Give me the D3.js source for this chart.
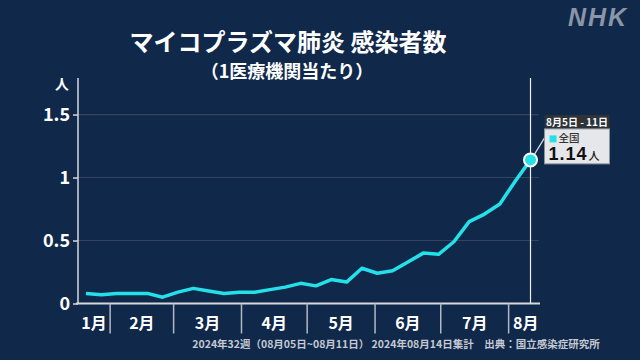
<!DOCTYPE html>
<html><head><meta charset="utf-8">
<script src="https://cdn.jsdelivr.net/npm/d3@7"></script>
<style>html,body{margin:0;padding:0;background:#10284a;}svg{display:block}</style>
</head><body><svg id="c" width="640" height="360"></svg>
<script>
// ---- data ----
const weekEnds = ["2024-01-21","2024-01-28","2024-02-04","2024-02-11","2024-02-18","2024-02-25",
  "2024-03-03","2024-03-10","2024-03-17","2024-03-24","2024-03-31","2024-04-07","2024-04-14",
  "2024-04-21","2024-04-28","2024-05-05","2024-05-12","2024-05-19","2024-05-26","2024-06-02",
  "2024-06-09","2024-06-16","2024-06-23","2024-06-30","2024-07-07","2024-07-14","2024-07-21",
  "2024-07-28","2024-08-04","2024-08-11"];
const values = [0.08,0.07,0.08,0.08,0.08,0.05,0.09,0.12,0.10,0.08,
                0.09,0.09,0.11,0.13,0.16,0.14,0.19,0.17,0.28,0.24,
                0.26,0.33,0.40,0.39,0.49,0.65,0.71,0.79,0.97,1.14];
const yTicks = [0, 0.5, 1, 1.5];
const monthLabels = ["1月","2月","3月","4月","5月","6月","7月","8月"];
const monthStarts = ["2024-02-01","2024-03-01","2024-04-01","2024-05-01","2024-06-01","2024-07-01","2024-08-01"];
const title = "マイコプラズマ肺炎 感染者数";
const subtitle = "（1医療機関当たり）";
const footnote = "2024年32週（08月05日~08月11日） 2024年08月14日集計　出典：国立感染症研究所";
const tipHeader = "8月5日 - 11日";
const tipSeries = "全国";
const unit = "人";

// ---- setup ----
const parse = d3.timeParse("%Y-%m-%d");
const data = weekEnds.map((d,i)=>({date:parse(d), value:values[i]}));
const svg = d3.select("#c");
const FONT = "'Noto Sans CJK JP','Noto Sans',sans-serif";
const NUM = "'Liberation Sans',Arial,sans-serif";
const L = 78, R = 540, T = 78, B = 303.5;

svg.append("rect").attr("width",640).attr("height",360).attr("fill","#10284a");

const x = d3.scaleTime()
  .domain([new Date(2024,0,17,8), new Date(2024,7,15,8)])
  .range([L, R]);
const y = d3.scaleLinear().domain([0, 1.79]).range([B, T]);

// gridlines
svg.append("g").selectAll("line").data(yTicks.filter(v=>v>0)).join("line")
  .attr("x1", L).attr("x2", R-1).attr("y1", d=>y(d)).attr("y2", d=>y(d))
  .attr("stroke", "#33455f").attr("stroke-width", 1.2);

// y axis
const yAxis = svg.append("g").attr("transform", `translate(${L},0)`)
  .call(d3.axisLeft(y).tickValues(yTicks).tickSize(5).tickPadding(3).tickFormat(d3.format("")));
yAxis.select(".domain").remove();
yAxis.selectAll(".tick line").attr("stroke","#d6d8dc").attr("stroke-width",1.5);
yAxis.selectAll(".tick text").attr("fill","#ffffff").attr("font-size",18)
  .attr("font-family",FONT).attr("font-weight",700);
svg.append("line").attr("x1",L).attr("x2",L).attr("y1",T).attr("y2",B)
  .attr("stroke","#d6d8dc").attr("stroke-width",1.5);
svg.append("text").attr("x",L-16).attr("y",T+11).attr("text-anchor","middle")
  .attr("fill","#fff").attr("font-size",14).attr("font-weight",700).attr("font-family",FONT).text(unit);

// x axis line
svg.append("line").attr("x1",L-2).attr("x2",R).attr("y1",B).attr("y2",B)
  .attr("stroke","#d6d8dc").attr("stroke-width",2);

// month separators and labels
const seps = monthStarts.map(parse);
svg.append("g").selectAll("line").data(seps).join("line")
  .attr("x1",d=>x(d)).attr("x2",d=>x(d)).attr("y1",B).attr("y2",B+30)
  .attr("stroke","#b4b8c0").attr("stroke-width",1.5);
const bounds = [x.domain()[0], ...seps, x.domain()[1]];
svg.append("g").selectAll("text").data(monthLabels).join("text")
  .attr("x",(d,i)=>(x(bounds[i])+x(bounds[i+1]))/2 + (i===7?1.5:0))
  .attr("y",B+25).attr("text-anchor","middle")
  .attr("fill","#fff").attr("font-size",16).attr("font-weight",700).attr("font-family",FONT)
  .text(d=>d);

// footnote
svg.append("text").attr("x",396).attr("y",347.5).attr("text-anchor","middle")
  .attr("fill","#c4c9d2").attr("font-size",10.5).attr("font-weight",700).attr("font-family",FONT)
  .text(footnote);

// title
svg.append("text").attr("x",288).attr("y",51).attr("text-anchor","middle")
  .attr("fill","#fff").attr("font-size",24).attr("font-weight",700).attr("font-family",FONT).text(title);
svg.append("text").attr("x",287).attr("y",77.5).attr("text-anchor","middle")
  .attr("fill","#fff").attr("font-size",18).attr("font-weight",700).attr("font-family",FONT).text(subtitle);

// NHK logo
svg.append("text").attr("x",598).attr("y",26).attr("text-anchor","middle")
  .attr("fill","#8a95a6").attr("font-size",25).attr("font-weight",900).attr("font-style","italic")
  .attr("letter-spacing",2).attr("font-family",NUM).text("NHK");

// vertical marker line at last point
const last = data[data.length-1];
const lx = x(last.date), ly = y(last.value);
svg.append("line").attr("x1",lx).attr("x2",lx).attr("y1",T).attr("y2",B)
  .attr("stroke","#f0f0f0").attr("stroke-width",1.2);

// line
svg.append("path").datum(data)
  .attr("d", d3.line().x(d=>x(d.date)).y(d=>y(d.value)))
  .attr("fill","none").attr("stroke","#24e0e8").attr("stroke-width",3.5)
  .attr("stroke-linejoin","round");

// tooltip
const tx = lx + 14, ty = ly - 45;
svg.append("line").attr("x1",lx+3).attr("y1",ly-4).attr("x2",tx).attr("y2",ty+23)
  .attr("stroke","#d8dadf").attr("stroke-width",1.2);
svg.append("rect").attr("x",tx).attr("y",ty).attr("width",65).attr("height",14).attr("fill","#2d3338");
svg.append("rect").attr("x",tx).attr("y",ty+14).attr("width",65).attr("height",35)
  .attr("fill","#e5e7eb").attr("stroke","#8d939b").attr("stroke-width",1);
svg.append("text").attr("x",tx+32.5).attr("y",ty+11).attr("text-anchor","middle")
  .attr("fill","#fff").attr("font-size",10).attr("font-weight",700).attr("font-family",FONT).text(tipHeader);
svg.append("rect").attr("x",tx+5).attr("y",ty+20.5).attr("width",7).attr("height",7).attr("fill","#24e0e8");
svg.append("text").attr("x",tx+14).attr("y",ty+27.5).attr("fill","#333")
  .attr("font-size",10.5).attr("font-weight",500).attr("font-family",FONT).text(tipSeries);
const vt = svg.append("text").attr("x",tx+4).attr("y",ty+45).attr("fill","#111");
vt.append("tspan").attr("font-family",NUM).attr("font-size",18).attr("font-weight",700)
  .attr("letter-spacing",1).text(d3.format(".2f")(last.value));
vt.append("tspan").attr("dx",1).attr("font-family",FONT).attr("font-size",11).attr("font-weight",500).text(unit);

// marker
svg.append("circle").attr("cx",lx).attr("cy",ly).attr("r",6.5)
  .attr("fill","#24e0e8").attr("stroke","#fff").attr("stroke-width",2);
</script>
</body></html>
